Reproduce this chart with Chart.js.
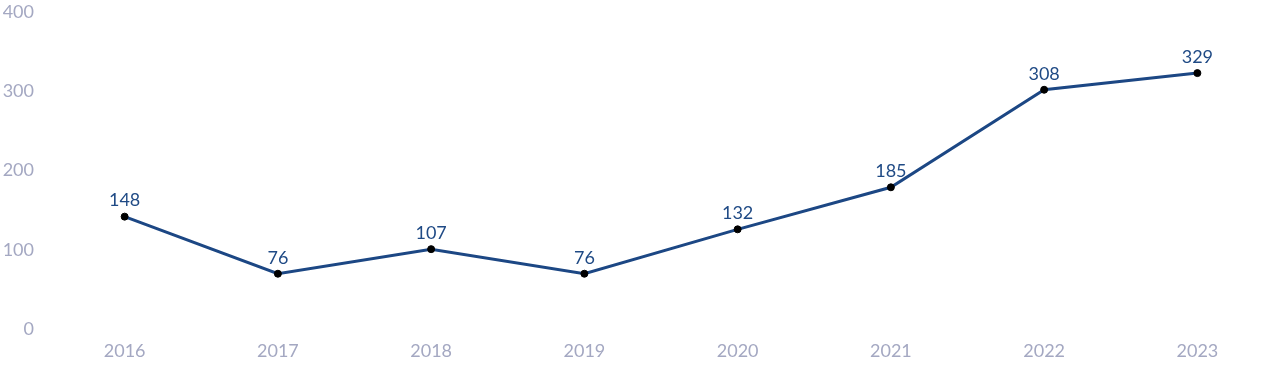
<!DOCTYPE html>
<html><head><meta charset="utf-8">
<script src="https://cdn.jsdelivr.net/npm/chart.js@4"></script>
<style>html,body{margin:0;padding:0;background:#fff}#w{width:1280px;height:382px}</style>
</head><body><div id="w"><canvas id="c"></canvas></div>
<script>
const categories = ['2016','2017','2018','2019','2020','2021','2022','2023'];
const values = [148, 76, 107, 76, 132, 185, 308, 329];
const yTicks = [0, 100, 200, 300, 400];

const labelPlugin = {
  id: 'valueLabels',
  afterDatasetsDraw(chart) {
    const ctx = chart.ctx;
    const meta = chart.getDatasetMeta(0);
    ctx.save();
    ctx.font = '18px Lato';
    ctx.fillStyle = '#1f4a85';
    ctx.textAlign = 'center';
    ctx.textBaseline = 'middle';
    meta.data.forEach((p, i) => {
      ctx.fillText(String(values[i]), p.x, p.y - 16);
    });
    ctx.restore();
  }
};

new Chart(document.getElementById('c'), {
  type: 'line',
  data: {
    labels: categories,
    datasets: [{
      data: values,
      borderColor: '#1c4784',
      borderWidth: 3,
      pointBackgroundColor: '#000',
      pointBorderColor: '#000',
      pointRadius: 3.5,
      pointBorderWidth: 1,
      tension: 0,
      fill: false
    }]
  },
  options: {
    responsive: true,
    maintainAspectRatio: false,
    animation: false,
    layout: { padding: { top: 13, right: 6, left: 0, bottom: 0 } },
    plugins: { legend: { display: false }, tooltip: { enabled: false } },
    scales: {
      x: {
        offset: true,
        grid: { display: false },
        border: { display: false },
        ticks: { color: '#a4a8c2', font: { family: 'Lato', size: 18 }, padding: -2, maxRotation: 0 },
        afterFit(s) { s.height = 48; }
      },
      y: {
        min: 0, max: 400,
        afterBuildTicks(s) { s.ticks = yTicks.map(v => ({ value: v })); },
        grid: { display: false },
        border: { display: false },
        ticks: { color: '#a4a8c2', font: { family: 'Lato', size: 18 }, padding: 6, labelOffset: -5 },
        afterFit(s) { s.width = 48; }
      }
    }
  },
  plugins: [labelPlugin]
});
</script></body></html>
